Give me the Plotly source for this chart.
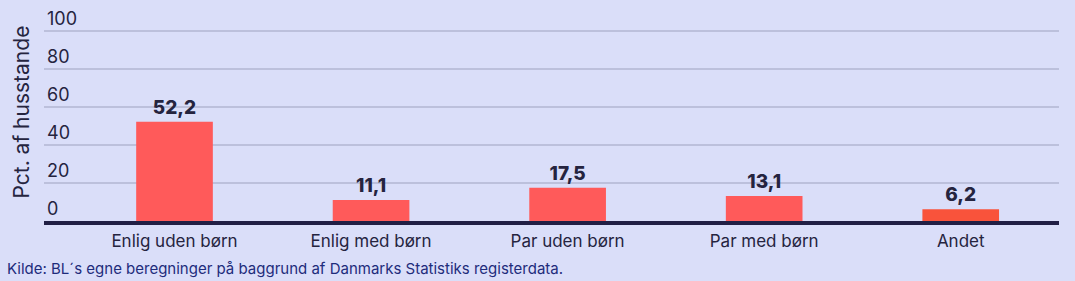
import plotly.graph_objects as go

categories = ["Enlig uden børn", "Enlig med børn", "Par uden børn", "Par med børn", "Andet"]
values = [52.2, 11.1, 17.5, 13.1, 6.2]
bar_colors = ["#ff5a5a", "#ff5a5a", "#ff5a5a", "#ff5a5a", "#f9533b"]
y_ticks = [0, 20, 40, 60, 80, 100]
y_title = "Pct. af husstande"
source = "Kilde: BL´s egne beregninger på baggrund af Danmarks Statistiks registerdata."

BG = "#dadef9"
TXT = "#25243f"
FONT = "Inter"

# plot area: x 44..1059 px, y 0..221 px ; 100 units = 190 px
PLOT_H = 221
YMAX = PLOT_H / 1.9

fig = go.Figure(go.Bar(
    x=list(range(len(categories))),
    y=values,
    marker=dict(color=bar_colors, line=dict(width=0)),
    width=0.39,
    texttemplate="%{y:.1f}",
    textposition="outside",
    textfont=dict(family=FONT, size=19, color=TXT, weight=800),
    cliponaxis=False,
    hoverinfo="skip",
))

fig.update_layout(
    width=1075, height=281,
    margin=dict(l=44, r=16, t=0, b=60),
    paper_bgcolor=BG, plot_bgcolor=BG,
    separators=",.",
    showlegend=False,
    font=dict(family=FONT, size=17, color=TXT),
    xaxis=dict(
        tickmode="array",
        tickvals=list(range(len(categories))),
        ticktext=categories,
        range=[-0.664, 4.5],
        showgrid=False,
        showline=True, linewidth=4, linecolor="#211f45",
        ticks="",
        ticklabelstandoff=2,
        tickfont=dict(family=FONT, size=17, color=TXT),
        zeroline=False,
        fixedrange=True,
    ),
    yaxis=dict(
        range=[0, YMAX],
        tickvals=y_ticks,
        ticklabelposition="inside top",
        tickfont=dict(family=FONT, size=18, color=TXT),
        showgrid=True, gridcolor="#bcc0dc", gridwidth=2,
        zeroline=False,
        showline=False,
        ticks="",
        fixedrange=True,
    ),
    annotations=[
        dict(text=y_title, textangle=-90, xref="paper", yref="paper",
             x=(21 - 44) / 1015, y=(221 - 112.5) / PLOT_H,
             xanchor="center", yanchor="middle", showarrow=False,
             font=dict(family=FONT, size=21, color=TXT)),
        dict(text=source, xref="paper", yref="paper",
             x=(5 - 44) / 1015, y=-(268 - 221) / PLOT_H, xanchor="left", yanchor="middle",
             showarrow=False, font=dict(family=FONT, size=15, color="#1e2c7c")),
    ],
)

fig.write_html("out.html")
